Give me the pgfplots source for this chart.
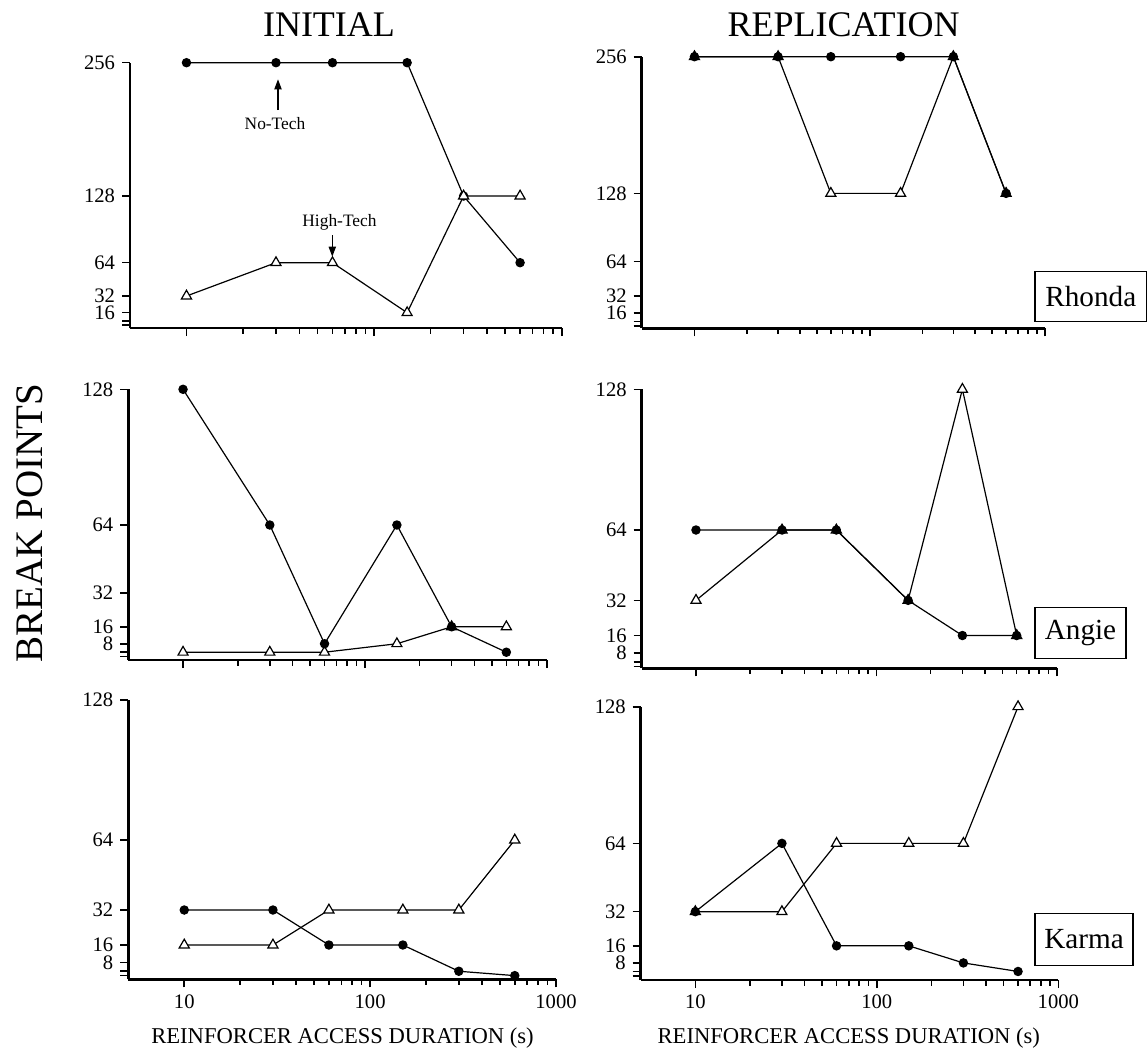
\documentclass[border=0pt]{standalone}
\usepackage{fontspec}
\setmainfont{Liberation Serif}
\usepackage{pgfplots}
\pgfplotsset{compat=1.18}
\usetikzlibrary{arrows.meta}
\pgfplotsset{
 bp/.style={
  scale only axis, xmin=5, xmax=1000,
  axis x line=bottom, axis y line=left,
  axis line style={-, line width=1.4pt},
  xtick={10,100,1000}, xticklabels={},
  minor xtick={20,30,40,50,60,70,80,90,200,300,400,500,600,700,800,900},
  tick align=outside, major tick length=4pt, minor tick length=2.8pt,
  tick style={black, line width=0.8pt},
  tick label style={font=\fontsize{10.3}{12}\selectfont},
  clip=false, anchor=south west,
 },
 toprow/.style={ymax=256, ytick={4,8,16,32,64,128,256}, yticklabels={,,16,32,64,128,256}},
 lowrow/.style={ymax=128, ytick={2,4,8,16,32,64,128}, yticklabels={,,8,16,32,64,128}},
 nt/.style={black, line width=0.6pt, mark=*, mark size=2.05pt, mark options={solid, fill=black}},
 ht/.style={black, line width=0.6pt, mark=triangle*, mark size=2.9pt, mark options={solid, fill=white, draw=black, line width=0.6pt}},
}
\begin{document}
\begin{tikzpicture}
\useasboundingbox (0,0) rectangle (574pt,-524.5pt);
% ---------- INITIAL / Rhonda ----------
\begin{semilogxaxis}[bp, toprow, at={(65pt,-164pt)}, width=215.85pt, height=132.65pt, ymin=1.3]
\addplot[nt] coordinates {(10,256)(30,256)(60,256)(150,256)(300,128)(600,64)};
\addplot[ht] coordinates {(10,32)(30,64)(60,64)(150,16)(300,128)(600,128)};
\end{semilogxaxis}
% ---------- REPLICATION / Rhonda ----------
\begin{semilogxaxis}[bp, toprow, at={(320.85pt,-164.15pt)}, width=201.65pt, height=135.8pt, ymin=1.6]
\addplot[ht] coordinates {(10,256)(30,256)(60,128)(150,128)(300,256)(600,128)};
\addplot[nt] coordinates {(10,256)(30,256)(60,256)(150,256)(300,256)(600,128)};
\end{semilogxaxis}
% ---------- INITIAL / Angie ----------
\begin{semilogxaxis}[bp, lowrow, at={(64.15pt,-330pt)}, width=209.2pt, height=135.35pt, ymin=0.33]
\addplot[ht] coordinates {(10,4)(30,4)(60,4)(150,8)(300,16)(600,16)};
\addplot[nt] coordinates {(10,128)(30,64)(60,8)(150,64)(300,16)(600,4)};
\end{semilogxaxis}
% ---------- REPLICATION / Angie ----------
\begin{semilogxaxis}[bp, lowrow, at={(320.85pt,-334.15pt)}, width=207.5pt, height=139.5pt, ymin=1.09]
\addplot[ht] coordinates {(10,32)(30,64)(60,64)(150,32)(300,128)(600,16)};
\addplot[nt] coordinates {(10,64)(30,64)(60,64)(150,32)(300,16)(600,16)};
\end{semilogxaxis}
% ---------- INITIAL / Karma ----------
\begin{semilogxaxis}[bp, lowrow, at={(64.15pt,-489.65pt)}, width=213.85pt, height=139.65pt, ymin=0.32,
  xticklabels={10,100,1000}]
\addplot[ht] coordinates {(10,16)(30,16)(60,32)(150,32)(300,32)(600,64)};
\addplot[nt] coordinates {(10,32)(30,32)(60,16)(150,16)(300,4)(600,2)};
\end{semilogxaxis}
% ---------- REPLICATION / Karma ----------
\begin{semilogxaxis}[bp, lowrow, at={(320.35pt,-490pt)}, width=208.8pt, height=136.65pt, ymin=0,
  xticklabels={10,100,1000}]
\addplot[ht] coordinates {(10,32)(30,32)(60,64)(150,64)(300,64)(600,128)};
\addplot[nt] coordinates {(10,32)(30,64)(60,16)(150,16)(300,8)(600,4)};
\end{semilogxaxis}
% ---------- texts ----------
\node[anchor=base, font=\fontsize{18}{20}\selectfont] at (164.5pt,-18.5pt) {INITIAL};
\node[anchor=base, font=\fontsize{18}{20}\selectfont] at (421.75pt,-18.5pt) {REPLICATION};
\node[anchor=base, rotate=90, font=\fontsize{19.5}{22}\selectfont] at (21pt,-261.5pt) {BREAK POINTS};
\node[anchor=base, font=\fontsize{11.3}{13}\selectfont] at (171.25pt,-521.65pt) {REINFORCER ACCESS DURATION (s)};
\node[anchor=base, font=\fontsize{11.3}{13}\selectfont] at (424.4pt,-521.65pt) {REINFORCER ACCESS DURATION (s)};
\node[anchor=base, font=\fontsize{8.7}{10}\selectfont] at (137.5pt,-64.5pt) {No-Tech};
\draw[line width=0.6pt, -{Triangle[length=5pt,width=3.6pt]}] (139pt,-55pt) -- (139pt,-39.65pt);
\node[anchor=base, font=\fontsize{8.7}{10}\selectfont] at (169.75pt,-113.35pt) {High-Tech};
\draw[line width=0.6pt, -{Triangle[length=5pt,width=3.6pt]}] (166.15pt,-117.5pt) -- (166.15pt,-128.35pt);
\node[draw, line width=0.6pt, inner sep=0pt, minimum width=55.8pt, minimum height=25pt, font=\fontsize{14.6}{16}\selectfont] at (545.4pt,-148.35pt) {Rhonda};
\node[draw, line width=0.6pt, inner sep=0pt, minimum width=45.5pt, minimum height=25.5pt, font=\fontsize{14.6}{16}\selectfont] at (540.25pt,-316.4pt) {Angie};
\node[draw, line width=0.6pt, inner sep=0pt, minimum width=49pt, minimum height=25.9pt, font=\fontsize{14.6}{16}\selectfont] at (542pt,-469.6pt) {Karma};
\end{tikzpicture}
\end{document}
